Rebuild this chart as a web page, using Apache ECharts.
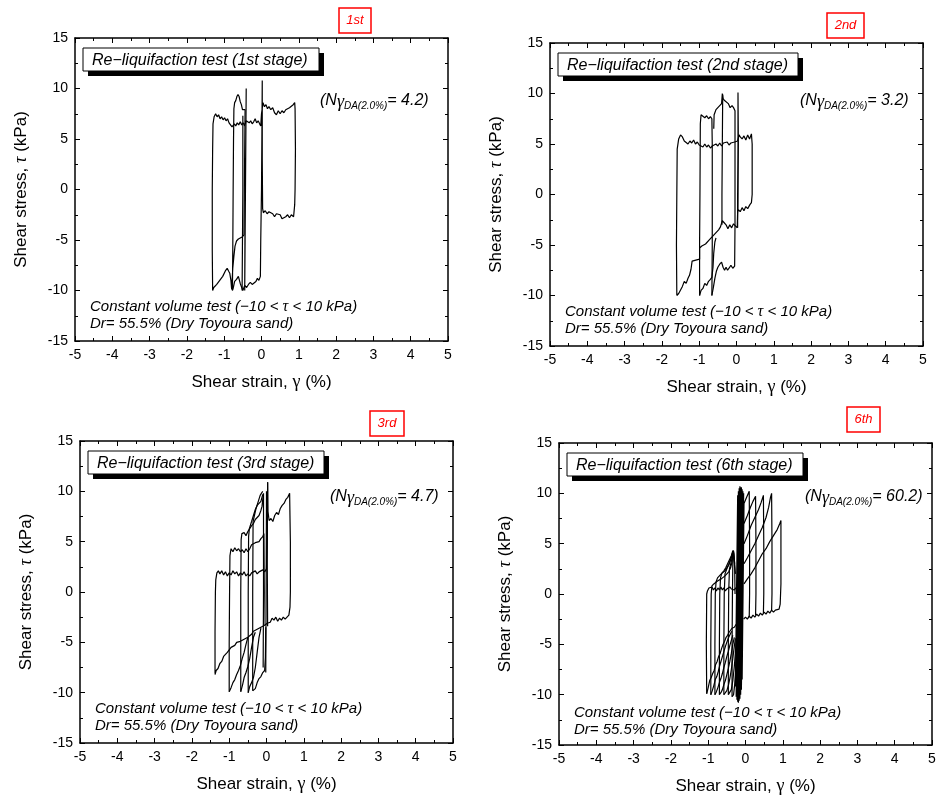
<!DOCTYPE html>
<html><head><meta charset="utf-8">
<script src="https://cdn.jsdelivr.net/npm/echarts@6/dist/echarts.min.js"></script>
<style>html,body{margin:0;padding:0;background:#fff}#c{width:949px;height:796px}</style>
</head><body><div id="c"></div>
<script>
// ---------------- data ----------------
const strainAxis = { min: -5, max: 5, step: 1 };     // Shear strain, gamma (%)
const stressAxis = { min: -15, max: 15, step: 5 };   // Shear stress, tau (kPa)
const stageTags = ['1st', '2nd', '3rd', '6th'];
const stageTitles = ['Re\u2212liquifaction test (1st stage)', 'Re\u2212liquifaction test (2nd stage)',
                     'Re\u2212liquifaction test (3rd stage)', 'Re\u2212liquifaction test (6th stage)'];
const nCycles = ['4.2', '3.2', '4.7', '60.2'];
const noteLine1 = 'Constant volume test (\u221210 < {t|\u03c4} < 10 kPa)';
const noteLine2 = 'Dr= 55.5% (Dry Toyoura sand)';

// stage 1 strokes [gamma, tau]
const stage1Loops = [
  [[0.00,0.0],[0.01,5.0],[0.02,10.8],[0.02,6.0],[0.0,0.0],[-0.02,-5.0],[-0.03,-8.6],
   [-0.07,-9.0],[-0.11,-8.8],[-0.15,-9.1],[-0.2,-9.0],[-0.25,-9.4],[-0.3,-9.2],[-0.35,-9.4],[-0.4,-9.7],[-0.45,-9.5],
   [-0.5,-10.0],[-0.53,-9.9],[-0.57,-9.3],[-0.62,-8.6],[-0.67,-8.9],[-0.72,-9.1],[-0.76,-9.8],[-0.78,-10.0],
   [-0.77,-6],[-0.76,0],[-0.75,5],[-0.74,8.0],[-0.72,8.6],[-0.69,8.8],[-0.66,9.2],[-0.63,9.4],[-0.6,9.2],[-0.57,8.7],
   [-0.54,8.4],[-0.51,7.9],[-0.47,7.8],[-0.44,7.9],
   [-0.46,0],[-0.47,-4.5],[-0.52,-4.7],[-0.57,-4.8],[-0.62,-4.9],[-0.67,-5.1],[-0.71,-5.6],[-0.74,-6.6],[-0.77,-7.8],[-0.8,-9.9],
   [-0.82,-9.0],[-0.85,-8.3],[-0.88,-8.1],[-0.92,-7.8],[-0.96,-8.0],[-1.0,-8.1],[-1.04,-8.6],[-1.08,-8.8],[-1.12,-9.0],
   [-1.16,-8.9],[-1.2,-9.4],[-1.24,-9.3],[-1.28,-9.7],[-1.31,-10.0],
   [-1.32,-6],[-1.32,0],[-1.31,4],[-1.3,6.5],[-1.27,7.2],[-1.23,7.5],[-1.19,7.2],[-1.15,7.4],[-1.11,7.0],[-1.07,7.2],
   [-1.03,6.9],[-0.99,7.1],[-0.95,6.8],[-0.91,7.0],[-0.87,6.6],[-0.83,6.7],[-0.79,6.2],[-0.76,6.1],[-0.73,6.5],[-0.69,6.3],
   [-0.65,6.6],[-0.61,6.4],[-0.57,6.7],[-0.53,6.4],[-0.49,6.6],[-0.45,6.3],[-0.41,6.8],[-0.37,6.9],[-0.33,6.6],[-0.29,6.8],
   [-0.25,6.5],[-0.21,6.7],[-0.17,7.0],[-0.13,6.6],[-0.09,6.8],[-0.05,6.5],[-0.02,6.3],[0.0,7.5],
   [0.04,8.6],[0.08,8.2],[0.12,8.4],[0.16,8.0],[0.2,8.2],[0.25,7.9],[0.3,8.1],[0.35,7.6],[0.4,7.4],[0.45,7.8],[0.5,7.5],
   [0.55,7.8],[0.6,7.6],[0.65,7.9],[0.7,7.8],[0.75,8.1],[0.8,8.0],[0.85,8.4],[0.89,8.6],
   [0.9,8.0],[0.91,4],[0.9,0],[0.89,-1.5],[0.86,-2.7],
   [0.8,-2.5],[0.75,-2.8],[0.7,-2.5],[0.65,-2.7],[0.6,-2.6],[0.55,-2.9],[0.5,-2.5],[0.45,-2.6],[0.4,-2.4],[0.35,-2.7],
   [0.3,-2.4],[0.25,-2.5],[0.2,-2.2],[0.15,-2.4],[0.1,-2.1],[0.05,-2.3],[0.03,-1.9],[0.02,3],[0.02,9],[0.02,10.8]],
  [[-0.52,-10.0],[-0.51,-5],[-0.5,0],[-0.5,5],[-0.5,7.3]],
  [[-0.45,-10.0],[-0.44,-5],[-0.43,0],[-0.42,5],[-0.41,10.0],[-0.42,5],[-0.44,-2],[-0.45,-10.0]]
];

// stage 2 strokes
const stage2Loops = [
  [[-1.6,-10.0],[-1.61,-5],[-1.6,0],[-1.59,4.5],[-1.55,5.5],[-1.5,5.9],[-1.45,5.7],[-1.4,5.3],[-1.35,5.4],[-1.3,5.0],
   [-1.25,5.3],[-1.2,5.1],[-1.15,5.4],[-1.1,5.0],[-1.05,5.2],[-1.0,4.9],[-0.95,4.9],[-0.9,4.7],[-0.85,5.0],[-0.8,4.7],
   [-0.75,4.9],[-0.7,4.6],[-0.65,4.8],[-0.6,4.9],[-0.55,5.0],[-0.5,4.8],[-0.45,5.1],[-0.4,4.8],[-0.35,5.1],[-0.3,5.0],
   [-0.25,5.2],[-0.2,4.9],[-0.15,5.1],[-0.1,5.0],[-0.05,5.2],[0.0,5.1],[0.03,5.3],[0.07,5.9],[0.1,5.7],[0.15,5.5],
   [0.2,5.8],[0.25,5.4],[0.3,5.9],[0.35,5.5],[0.4,6.0],[0.42,5],[0.42,0],[0.4,-0.8],[0.36,-1.0],[0.3,-1.4],[0.25,-1.2],
   [0.2,-1.6],[0.15,-1.3],[0.1,-1.7],[0.05,-1.5],[0.03,-1.8],[0.02,-3.3],[-0.03,-3.2],[-0.08,-2.9],[-0.13,-3.3],
   [-0.18,-3.0],[-0.23,-3.4],[-0.28,-3.0],[-0.33,-2.8],[-0.38,-2.6],[-0.43,-3.2],[-0.48,-3.5],[-0.53,-3.6],[-0.58,-3.9],
   [-0.63,-4.0],[-0.68,-4.3],[-0.73,-4.5],[-0.78,-4.6],[-0.83,-4.9],[-0.88,-5.0],[-0.93,-5.1],[-0.99,-5.3],[-0.99,-6.4],
   [-1.04,-6.3],[-1.09,-6.5],[-1.14,-6.4],[-1.19,-6.6],[-1.22,-7.4],[-1.26,-8.0],[-1.3,-8.3],[-1.35,-8.8],[-1.4,-8.6],
   [-1.45,-9.1],[-1.5,-9.2],[-1.55,-9.8],[-1.6,-10.0]],
  [[-0.99,-10.0],[-0.99,-5],[-0.98,0],[-0.97,7.0],[-0.95,7.9],[-0.9,8.0],[-0.85,7.6],[-0.8,7.8],[-0.75,7.5],[-0.7,7.7],
   [-0.66,7.5],[-0.65,5],[-0.65,0],[-0.65,-5],[-0.66,-10.0]],
  [[-0.99,-10.0],[-0.95,-9.5],[-0.9,-9.3],[-0.85,-8.8],[-0.8,-9.0],[-0.75,-8.6],[-0.7,-8.4],[-0.66,-8.2],[-0.63,-7.2],
   [-0.61,-5.8],[-0.58,-4.7],[-0.55,-4.3]],
  [[-0.66,-10.0],[-0.62,-9.2],[-0.58,-8.3],[-0.54,-7.6],[-0.5,-7.2],[-0.45,-6.9],[-0.4,-6.7],[-0.36,-7.2],[-0.32,-7.5],
   [-0.28,-7.2],[-0.24,-7.5],[-0.2,-7.3],[-0.15,-7.0],[-0.1,-7.3],[-0.05,-7.1],[-0.04,-3],[-0.04,3],[-0.04,8.3],
   [-0.08,8.6],[-0.12,8.8],[-0.17,8.6],[-0.22,9.0],[-0.27,8.9],[-0.32,9.3],[-0.36,9.5],[-0.38,10.0],[-0.4,9.0],
   [-0.45,8.9],[-0.5,8.6],[-0.55,8.4],[-0.58,8.1],[-0.6,7.9],[-0.61,6.5]],
  [[-0.39,-3.0],[-0.39,0],[-0.38,5],[-0.37,9.9]],
  [[0.03,-3.3],[0.03,0],[0.04,5],[0.04,10.1],[0.05,5],[0.04,-1.5]]
];

// stage 3 strokes
const stage3Loops = [
  [[-1.38,-8.1],[-1.38,-4],[-1.37,0],[-1.36,1.2],[-1.33,1.9],[-1.29,2.1],[-1.25,1.8],[-1.2,2.1],[-1.15,1.7],[-1.1,2.0],
   [-1.05,1.6],[-1.0,1.9],[-0.95,1.7],[-0.9,2.1],[-0.85,1.8],[-0.8,2.0],[-0.75,1.6],[-0.7,1.9],[-0.65,1.7],[-0.6,2.0],
   [-0.55,1.6],[-0.5,1.8],[-0.45,1.6],[-0.4,1.9],[-0.35,1.8],[-0.3,2.1],[-0.25,1.8],[-0.2,2.0],[-0.15,1.9],[-0.1,2.2],
   [-0.05,2.0],[0.0,2.3],[0.02,6],[0.03,10.9],[0.04,8],[0.07,7.1],[0.12,7.3],[0.17,7.0],[0.22,7.6],[0.27,7.9],[0.32,7.7],
   [0.37,8.3],[0.42,8.6],[0.47,8.8],[0.52,9.2],[0.57,9.4],[0.62,9.8],[0.63,9.9],[0.64,5],[0.64,0],[0.63,-1.5],[0.6,-2.3],
   [0.55,-2.5],[0.5,-2.7],[0.45,-2.5],[0.4,-2.8],[0.35,-2.6],[0.3,-2.9],[0.25,-2.5],[0.2,-2.8],[0.15,-2.6],[0.1,-3.0],
   [0.05,-2.9],[0.02,-3.1],[-0.05,-3.3],[-0.1,-3.2],[-0.15,-3.5],[-0.2,-3.4],[-0.25,-3.7],[-0.3,-3.8],[-0.35,-3.9],
   [-0.4,-4.2],[-0.45,-4.1],[-0.5,-4.5],[-0.55,-4.4],[-0.6,-4.7],[-0.65,-4.6],[-0.7,-4.9],[-0.75,-5.0],[-0.8,-5.0],
   [-0.85,-5.3],[-0.9,-5.2],[-0.95,-5.5],[-1.0,-5.5],[-1.05,-6.0],[-1.1,-6.2],[-1.15,-6.4],[-1.2,-6.9],[-1.25,-7.1],
   [-1.3,-7.6],[-1.35,-7.8],[-1.38,-8.2]],
  [[-1.0,-9.9],[-1.0,-5],[-0.99,0],[-0.98,3.6],[-0.95,4.3],[-0.9,4.0],[-0.85,4.4],[-0.8,4.1],[-0.75,4.3],[-0.7,4.0],
   [-0.65,4.2],[-0.6,3.9],[-0.55,4.3],[-0.5,4.0],[-0.45,4.3],[-0.4,4.7],[-0.35,4.6],[-0.3,4.9],[-0.25,5.0],[-0.2,5.0],
   [-0.15,5.3],[-0.1,5.5],[-0.07,5.8],[-0.06,0],[-0.07,-3.3]],
  [[-1.0,-9.9],[-0.95,-9.5],[-0.9,-9.0],[-0.85,-8.7],[-0.8,-8.2],[-0.75,-7.8],[-0.7,-7.3],[-0.65,-6.6],[-0.6,-6.0],
   [-0.55,-5.2],[-0.5,-4.5]],
  [[-0.69,-9.9],[-0.69,0],[-0.68,5.2],[-0.66,5.8],[-0.6,5.9],[-0.55,5.6],[-0.5,6.0],[-0.45,6.0],[-0.4,6.6],[-0.35,6.8],
   [-0.3,7.2],[-0.25,7.4],[-0.2,7.6],[-0.15,8.1],[-0.12,8.5],[-0.1,9.2],[-0.08,9.8],[-0.08,0],[-0.09,-7.5]],
  [[-0.69,-9.9],[-0.64,-9.2],[-0.6,-8.5],[-0.55,-8.0],[-0.5,-7.4],[-0.45,-6.6],[-0.4,-5.5],[-0.35,-4.5],[-0.3,-4.0]],
  [[-0.49,-10.0],[-0.49,0],[-0.48,5.5],[-0.46,6.3],[-0.4,7.0],[-0.35,7.6],[-0.3,8.2],[-0.25,8.6],[-0.2,8.8],[-0.15,9.0],
   [-0.1,9.7]],
  [[-0.49,-10.0],[-0.45,-9.4],[-0.4,-9.0],[-0.35,-8.5],[-0.3,-7.5],[-0.25,-6.0],[-0.2,-4.5],[-0.15,-3.6]],
  [[-0.37,-9.8],[-0.37,0],[-0.36,7.0],[-0.33,7.5],[-0.28,8.3],[-0.22,9.0],[-0.17,9.6],[-0.12,9.9],[-0.1,10.0]],
  [[-0.37,-9.8],[-0.3,-9.6],[-0.25,-9.0],[-0.2,-8.6],[-0.15,-8.4],[-0.1,-8.0],[-0.05,-7.8],[-0.03,-6.5],[-0.02,-3.5]],
  [[-0.02,-8.0],[-0.01,0],[0.0,10.0]],
  [[0.03,-3.4],[0.02,3],[0.03,10.9]]
];

// stage 6 strokes
const stage6Loops = [
  [[-1.04,-9.9],[-1.05,-5],[-1.04,0],[-1.02,0.3],[-0.98,0.6],[-0.94,0.5],[-0.9,0.7],[-0.86,0.4],[-0.82,0.6],[-0.78,0.3],
   [-0.74,0.6],[-0.7,0.4],[-0.66,0.7],[-0.62,0.4],[-0.58,0.6],[-0.54,0.3],[-0.5,0.5],[-0.46,0.4],[-0.42,0.7],[-0.38,0.5],
   [-0.34,0.6],[-0.3,0.4],[-0.26,0.6],[-0.22,0.5]],
  [[-1.04,-9.9],[-1.0,-9.3],[-0.96,-8.6],[-0.92,-8.3],[-0.88,-7.9],[-0.84,-7.6],[-0.8,-7.0],[-0.76,-6.7],[-0.72,-6.2],
   [-0.68,-5.9],[-0.64,-5.4],[-0.6,-5.0],[-0.56,-4.7],[-0.52,-4.3],[-0.48,-4.1],[-0.44,-3.8],[-0.4,-3.6],[-0.36,-3.4],
   [-0.3,-3.3],[-0.25,-3.0]],
  [[-0.93,-10.0],[-0.93,-5],[-0.92,0],[-0.9,0.8],[-0.85,1.0],[-0.8,1.1],[-0.75,1.3],[-0.7,1.2],[-0.65,1.5],[-0.6,1.6],
   [-0.55,1.8],[-0.5,1.9],[-0.45,2.2],[-0.4,2.6],[-0.36,3.2],[-0.33,4.2],[-0.3,3.4],[-0.27,2.0]],
  [[-0.93,-10.0],[-0.89,-9.6],[-0.85,-9.1],[-0.81,-8.5],[-0.77,-8.2],[-0.73,-7.7],[-0.69,-7.1],[-0.65,-6.6],[-0.61,-6.1],
   [-0.57,-5.6],[-0.53,-5.1],[-0.49,-4.7],[-0.45,-4.3],[-0.41,-4.0],[-0.37,-3.7]],
  [[-0.82,-10.0],[-0.82,-5],[-0.81,0],[-0.79,1.2],[-0.75,1.6],[-0.7,1.8],[-0.65,2.0],[-0.6,2.1],[-0.55,2.3],[-0.5,2.6],
   [-0.45,2.9],[-0.4,3.4],[-0.35,4.0],[-0.32,4.3],[-0.29,3.0]],
  [[-0.82,-10.0],[-0.78,-9.7],[-0.74,-9.3],[-0.7,-8.8],[-0.66,-8.4],[-0.62,-7.9],[-0.58,-7.3],[-0.54,-6.8],[-0.5,-6.2],
   [-0.46,-5.7],[-0.42,-5.1],[-0.38,-4.6],[-0.34,-4.1]],
  [[-0.7,-10.0],[-0.7,-5],[-0.69,0],[-0.67,1.6],[-0.63,2.1],[-0.58,2.3],[-0.53,2.6],[-0.48,3.0],[-0.43,3.4],[-0.38,3.8],
   [-0.34,4.3]],
  [[-0.7,-10.0],[-0.66,-9.8],[-0.62,-9.5],[-0.58,-9.0],[-0.54,-8.6],[-0.5,-8.0],[-0.46,-7.4],[-0.42,-6.7],[-0.38,-5.9],
   [-0.34,-5.0],[-0.3,-4.3]],
  [[-0.58,-10.0],[-0.58,-5],[-0.57,0],[-0.55,2.0],[-0.5,2.5],[-0.45,2.9],[-0.4,3.4],[-0.36,3.9],[-0.33,4.3]],
  [[-0.58,-10.0],[-0.54,-9.9],[-0.5,-9.6],[-0.46,-9.1],[-0.42,-8.4],[-0.38,-7.5],[-0.34,-6.4],[-0.3,-5.2],[-0.27,-4.4]],
  [[-0.46,-10.0],[-0.46,-5],[-0.45,0.3],[-0.43,2.5],[-0.39,3.1],[-0.35,3.7],[-0.32,4.1]],
  [[-0.46,-10.0],[-0.42,-9.9],[-0.38,-9.5],[-0.34,-8.6],[-0.3,-7.2],[-0.27,-5.8],[-0.25,-4.6]],
  [[-0.36,-10.2],[-0.36,-5],[-0.35,0],[-0.34,3.0],[-0.33,4.3],[-0.31,4.0],[-0.29,2.5],[-0.28,0]],
  [[-0.36,-10.2],[-0.32,-10.0],[-0.29,-9.0],[-0.26,-7.5],[-0.24,-5.5]],
  [[-0.27,-9.2],[-0.21,9.8],[-0.25,-10.2],[-0.19,10.2],[-0.23,-10.5],[-0.17,10.5],[-0.21,-10.7],[-0.15,10.7],
   [-0.19,-10.8],[-0.13,10.6],[-0.17,-10.6],[-0.11,10.6],[-0.15,-10.4],[-0.09,10.4],[-0.13,-10.0],[-0.07,10.2],
   [-0.11,-9.5],[-0.05,10.0],[-0.09,-8.5],[-0.04,9.0]],
  [[-0.05,-2.5],[0.0,-2.3],[0.05,-2.5],[0.1,-2.2],[0.15,-2.4],[0.2,-2.1],[0.25,-2.3],[0.3,-2.0],[0.35,-2.2],[0.4,-1.9],
   [0.45,-2.1],[0.5,-1.8],[0.55,-2.0],[0.6,-1.7],[0.65,-1.9],[0.7,-1.6],[0.75,-1.8],[0.8,-1.6],[0.85,-1.7],[0.9,-1.5],
   [0.93,-1.0],[0.95,1],[0.95,5],[0.95,7.3],[0.92,7.0],[0.85,6.4],[0.75,5.8],[0.65,5.2],[0.55,4.5],[0.45,4.0],[0.35,3.3],
   [0.25,2.6],[0.15,2.0],[0.05,1.5],[-0.04,1.0]],
  [[-0.04,3.0],[0.05,3.6],[0.15,4.3],[0.25,5.0],[0.35,5.8],[0.45,6.6],[0.55,7.6],[0.62,8.6],[0.67,9.6],[0.7,10.0],
   [0.71,5],[0.71,0],[0.7,-1.6]],
  [[-0.04,5.0],[0.05,5.8],[0.15,6.8],[0.25,7.6],[0.35,8.4],[0.42,9.1],[0.48,9.8],[0.49,5],[0.49,0],[0.48,-1.9]],
  [[-0.04,7.0],[0.05,7.8],[0.13,8.6],[0.2,9.2],[0.27,9.7],[0.28,5],[0.28,0],[0.27,-2.1]],
  [[-0.04,9.0],[0.03,9.6],[0.1,10.2],[0.11,5],[0.11,0],[0.1,-2.3]]
];

const allLoops = [stage1Loops, stage2Loops, stage3Loops, stage6Loops];

// ---------------- layout ----------------
const grids = [
  { left: 75,  top: 38,  width: 373, height: 303 },
  { left: 550, top: 43,  width: 373, height: 303 },
  { left: 80,  top: 441, width: 373, height: 302 },
  { left: 559, top: 443, width: 373, height: 304 }
];
const tagBoxes = [[339, 8, 32, 25], [827, 13, 37, 25], [370, 411, 34, 25], [847, 407, 33, 25]];
const titleWidths = [236, 240, 236, 236];
const nOffsets = [[245, 55], [250, 50], [250, 48], [246, 46]];

const SANS = '"Liberation Sans", Arial, sans-serif';
const SERIF = '"Liberation Serif", "Times New Roman", serif';

function axisCommon(gi, isX, pos, main) {
  const r = isX ? strainAxis : stressAxis;
  const o = {
    type: 'value', gridIndex: gi, position: pos,
    min: r.min, max: r.max, interval: r.step,
    axisLine: { show: true, onZero: false, lineStyle: { color: '#000', width: 1.5 } },
    axisTick: { show: true, inside: true, length: 5, lineStyle: { color: '#000', width: 1 } },
    minorTick: { show: true, splitNumber: 2, length: 3, lineStyle: { color: '#000', width: 1 } },
    splitLine: { show: false }, minorSplitLine: { show: false },
    axisLabel: { show: main, color: '#000', fontSize: 14, fontFamily: SANS, margin: 7 }
  };
  if (main) {
    o.name = isX ? 'Shear strain, {g|\u03b3} (%)' : 'Shear stress, {t|\u03c4} (kPa)';
    o.nameLocation = 'middle';
    o.nameGap = isX ? 32 : 45;
    o.nameTextStyle = {
      color: '#000', fontSize: 17, fontFamily: SANS,
      rich: {
        g: { fontSize: 18, fontFamily: SERIF, color: '#000' },
        t: { fontSize: 18, fontFamily: SERIF, fontStyle: 'italic', color: '#000' }
      }
    };
  }
  return o;
}

const xAxes = [], yAxes = [], series = [], graphics = [];
grids.forEach((g, i) => {
  xAxes.push(axisCommon(i, true, 'bottom', true));
  xAxes.push(axisCommon(i, true, 'top', false));
  yAxes.push(axisCommon(i, false, 'left', true));
  yAxes.push(axisCommon(i, false, 'right', false));
  allLoops[i].forEach(stroke => {
    series.push({
      type: 'line', xAxisIndex: 2 * i, yAxisIndex: 2 * i, data: stroke,
      showSymbol: false, symbol: 'none', silent: true, animation: false, clip: true,
      lineStyle: { color: '#000', width: 1.2 }
    });
  });

  // stage title box with shadow
  const bx = g.left + 8, by = g.top + 10, bw = titleWidths[i], bh = 23;
  graphics.push({ type: 'rect', z: 100, shape: { x: bx + 5, y: by + 5, width: bw, height: bh }, style: { fill: '#000' } });
  graphics.push({ type: 'rect', z: 101, shape: { x: bx, y: by, width: bw, height: bh }, style: { fill: '#fff', stroke: '#000', lineWidth: 1 } });
  graphics.push({ type: 'text', z: 102, x: bx + 9, y: by + bh / 2 + 1,
    style: { text: stageTitles[i], fill: '#000', fontSize: 16, fontStyle: 'italic', fontFamily: SANS, align: 'left', verticalAlign: 'middle' } });

  // N gamma annotation
  graphics.push({ type: 'text', z: 102, x: g.left + nOffsets[i][0], y: g.top + nOffsets[i][1],
    style: {
      text: '{p|(N}{g|\u03b3}{s|DA(2.0%)}{p|= ' + nCycles[i] + ')}',
      align: 'left', verticalAlign: 'top',
      rich: {
        p: { fill: '#000', fontSize: 16, fontStyle: 'italic', fontFamily: SANS, lineHeight: 18, verticalAlign: 'top' },
        g: { fill: '#000', fontSize: 18, fontStyle: 'italic', fontFamily: SERIF, lineHeight: 18, verticalAlign: 'top' },
        s: { fill: '#000', fontSize: 10, fontStyle: 'italic', fontFamily: SANS, lineHeight: 12, verticalAlign: 'bottom', padding: [9, 0, 0, 0] }
      }
    } });

  // notes
  const b = g.top + g.height;
  graphics.push({ type: 'text', z: 102, x: g.left + 15, y: b - 34,
    style: { text: noteLine1, fill: '#000', fontSize: 15, fontStyle: 'italic', fontFamily: SANS, align: 'left', verticalAlign: 'middle',
      rich: { t: { fill: '#000', fontSize: 16, fontStyle: 'italic', fontFamily: SERIF } } } });
  graphics.push({ type: 'text', z: 102, x: g.left + 15, y: b - 17,
    style: { text: noteLine2, fill: '#000', fontSize: 15, fontStyle: 'italic', fontFamily: SANS, align: 'left', verticalAlign: 'middle' } });

  // red stage tag
  const t = tagBoxes[i];
  graphics.push({ type: 'rect', z: 100, shape: { x: t[0], y: t[1], width: t[2], height: t[3] }, style: { fill: '#fff', stroke: '#ff0000', lineWidth: 1.5 } });
  graphics.push({ type: 'text', z: 101, x: t[0] + t[2] / 2, y: t[1] + t[3] / 2,
    style: { text: stageTags[i], fill: '#ff0000', fontSize: 13, fontStyle: 'italic', fontFamily: SANS, align: 'center', verticalAlign: 'middle' } });
});

const chart = echarts.init(document.getElementById('c'), null, { renderer: 'canvas' });
chart.setOption({
  backgroundColor: '#fff',
  animation: false,
  grid: grids,
  xAxis: xAxes,
  yAxis: yAxes,
  series: series,
  graphic: { elements: graphics }
});
</script>
</body></html>
